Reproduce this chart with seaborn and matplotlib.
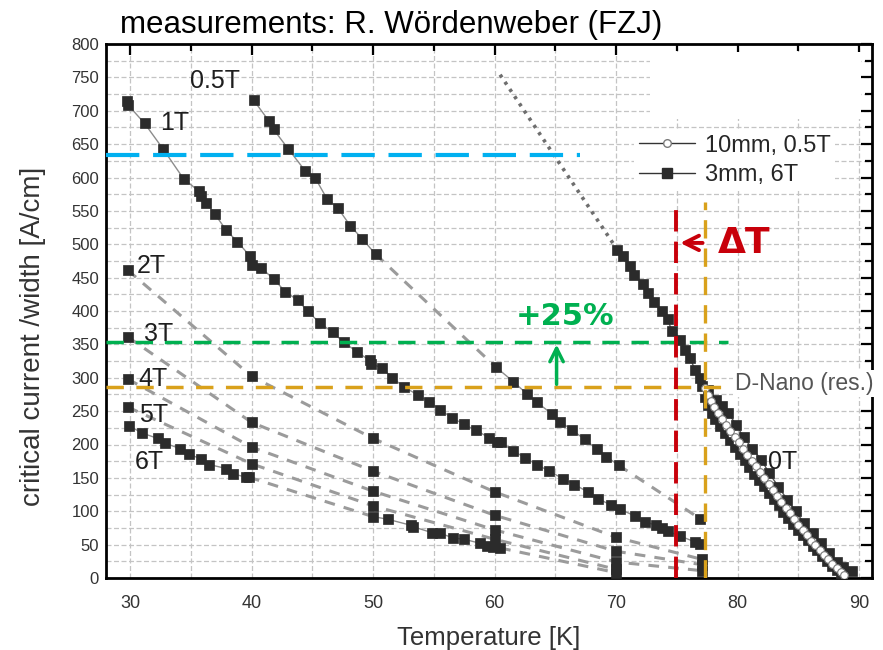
import matplotlib
matplotlib.use("Agg")
import matplotlib.pyplot as plt
import seaborn as sns
from matplotlib.patches import Rectangle
from matplotlib.lines import Line2D
from matplotlib.ticker import MultipleLocator

# ---------------- data ----------------
# 0.5 T measured segments
T_05a = [40.15, 41.4, 41.8, 43.0, 44.4, 45.2, 46.2, 47.1, 48.1, 49.1, 50.2]
J_05a = [716, 685, 672, 643, 610, 600, 568, 554, 528, 508, 485]
T_05b = [60.1, 61.55, 62.7, 63.5, 64.7, 65.4, 66.35, 67.4, 68.4, 69.2, 70.2]
J_05b = [316, 294, 275, 263, 246, 234, 222, 208, 193, 182, 169]
T_05c = [76.9]
J_05c = [89]

# 1 T measured chain
T_1 = [29.73, 29.8, 31.18, 32.69, 34.39, 35.62, 35.82, 36.26, 36.97, 37.9, 38.81,
       39.82, 40.0, 40.75, 41.8, 42.76, 43.8, 44.6, 45.6, 46.68, 47.58, 48.66, 49.7,
       49.78, 50.7, 51.56, 52.55, 53.7, 54.6, 55.5, 56.5, 57.5, 58.48, 59.57, 60.17,
       60.5, 61.5, 62.5, 63.47, 64.5, 65.6, 66.57, 67.67, 68.5, 69.6, 70.3, 71.56,
       72.4, 73.3, 73.8, 74.25, 75.25, 76.5, 76.9]
J_1 = [714, 709, 681, 643, 598, 580, 572, 562, 545, 521, 504, 483, 469, 465, 448,
       429, 416, 400, 382, 368, 353, 339, 326, 321, 315, 300, 286, 274, 264, 252, 240,
       230, 221, 210, 203, 203, 191, 180, 170, 160, 149, 140, 129, 119, 109, 103, 93,
       84, 79, 75, 70, 63, 54, 51]

# 6 T measured segments
T_6a = [29.9, 30.99, 32.28, 32.83, 34.1, 34.8, 35.84, 36.5, 37.9, 38.45, 39.55, 39.77]
J_6a = [228, 217, 209, 202, 194, 186, 178, 170, 164, 156, 151, 151]
T_6b = [49.98, 51.2, 53.1, 53.25, 54.83, 55.5, 56.6, 57.5, 58.8, 59.36, 59.9, 60.45]
J_6b = [92, 88, 79, 77, 68, 67, 60, 58, 52, 48, 47, 45]
T_6c = [70.0]
J_6c = [8]

# isolated measurements 2T..5T
T_pts = [29.8, 40.0, 50.0, 60.0, 70.0, 77.05]
J_2T = [461, 302, 209, 129, 61, 28]
J_3T = [361, 233, 160, 94, 40, 20]
J_4T = [298, 196, 130, 72, 24, 11]
J_5T = [256, 171, 108, 58, 13]

# dotted extrapolation of 0T
T_dot = [60.45, 69.8]
J_dot = [754, 500]

# 0T chain (3mm)
T_0T = [70.06, 70.55, 71.15, 71.48, 72.24, 72.66, 73.13, 73.76, 74.25, 74.58, 75.27,
        75.68, 76.09, 76.5, 76.9, 77.05, 77.6, 78.2, 78.7, 79.25, 79.9, 80.5, 81.2,
        81.97, 82.6, 83.36, 84.1, 84.8, 85.47, 86.2, 86.9, 87.5, 88.17, 88.7, 89.4]
J_0T = [491, 482, 467, 454, 440, 427, 413, 400, 388, 370, 356, 342, 329, 312, 299,
        287, 282, 266, 258, 247, 229, 211, 194, 177, 157, 137, 117, 100, 82, 67, 52,
        38, 24, 17, 10]

# inner dense chain (3mm)
T_in = [77.2, 77.5, 77.8, 78.1, 78.5, 78.9, 79.3, 79.7, 80.1, 80.5, 80.9, 81.3, 81.7,
        82.1, 82.5, 82.9, 83.3, 83.7, 84.1, 84.5, 84.9, 85.3, 85.7, 86.1, 86.5, 86.9,
        87.3, 87.7, 88.1, 88.45]
J_in = [270, 258, 246, 236, 226, 216, 205, 195, 185, 175, 165, 155, 146, 136, 126,
        117, 108, 98, 89, 80, 71, 63, 55, 47, 40, 32, 24, 17, 11, 6]

# 10mm, 0.5T (open circles)
T_10 = [77.3, 77.55, 77.8, 78.1, 78.4, 78.7, 79.05, 79.4, 79.75, 80.1, 80.45, 80.8,
        81.15, 81.5, 81.85, 82.2, 82.55, 82.9, 83.25, 83.6, 83.95, 84.3, 84.65, 85.0,
        85.35, 85.7, 86.05, 86.4, 86.75, 87.1, 87.45, 87.8, 88.15, 88.5, 88.8]
J_10 = [284, 274, 265, 256, 247, 238, 229, 220, 211, 203, 194, 185, 176, 168, 159,
        150, 141, 132, 123, 114, 105, 97, 88, 80, 72, 64, 56, 49, 42, 35, 28, 21, 15,
        9, 4]

# reference levels
J_ref_blue = 634
J_ref_green = 354
J_ref_gold = 286
T_red = 74.95
T_gold = 77.35

field_labels = ["0.5T", "1T", "2T", "3T", "4T", "5T", "6T", "0T"]
label_T = [34.95, 32.45, 30.55, 31.1, 30.65, 30.7, 30.4, 82.5]
label_J = [744, 682, 467, 366, 298, 244, 174, 174]

# ---------------- styling ----------------
sns.set_theme(style="white")
plt.rcParams['font.family'] = ['Liberation Sans', 'DejaVu Sans']

fig = plt.figure(figsize=(8.83, 6.5), dpi=100)
ax = fig.add_axes([106 / 883, 1 - 578 / 650, (872 - 106) / 883, (578 - 44) / 650])
ax.set_xlim(28.0, 91.07)
ax.set_ylim(0, 800)

ax.xaxis.set_major_locator(MultipleLocator(10))
ax.xaxis.set_minor_locator(MultipleLocator(5))
ax.yaxis.set_major_locator(MultipleLocator(50))
ax.yaxis.set_minor_locator(MultipleLocator(25))
ax.set_axisbelow(True)
ax.grid(which='both', color='#c4c4c4', linestyle=(0, (4, 2)), linewidth=0.9)
for s in ax.spines.values():
    s.set_color('black')
    s.set_linewidth(2)
ax.tick_params(which='both', direction='in', top=True, right=True, color='black',
               width=1.6, labelcolor='#333333')
ax.tick_params(which='major', length=8)
ax.tick_params(which='minor', length=5)
ax.tick_params(axis='x', labelsize=13, pad=12)
ax.tick_params(axis='y', labelsize=12, pad=5)

# white patch in top-right (pasted area in the original)
ax.add_patch(Rectangle((72.8, 688), 17.4, 100, facecolor='white', edgecolor='none', zorder=1))

SQC = '#2b2b2b'
GREY_LINE = '#8c8c8c'
DASH_GREY = '#9b9b9b'


def chain(T, J, ms=6.5, lc=GREY_LINE, lw=1.0, z=5):
    sns.lineplot(x=T, y=J, ax=ax, estimator=None, sort=False, color=lc, linewidth=lw,
                 marker='s', markersize=ms, markerfacecolor=SQC, markeredgecolor=SQC,
                 markeredgewidth=0.5, legend=False, zorder=z)


def dashed(T, J):
    sns.lineplot(x=T, y=J, ax=ax, estimator=None, sort=False, color=DASH_GREY,
                 linewidth=2.2, linestyle=(0, (3.5, 3)), legend=False, zorder=3)


def points(T, J):
    sns.scatterplot(x=T, y=J, ax=ax, marker='s', s=50, color=SQC, edgecolor=SQC,
                    linewidth=0.5, legend=False, zorder=6)


# dashed extrapolations
dashed([T_05a[-1], T_05b[0]], [J_05a[-1], J_05b[0]])
dashed([T_05b[-1], T_05c[0]], [J_05b[-1], J_05c[0]])
dashed([T_6a[-1], T_6b[0]], [J_6a[-1], J_6b[0]])
dashed([T_6b[-1], T_6c[0]], [J_6b[-1], J_6c[0]])
for Jf in (J_2T, J_3T, J_4T, J_5T):
    dashed(T_pts[:len(Jf)], Jf)
    points(T_pts[:len(Jf)], Jf)
points(T_05c, J_05c)
points(T_6c, J_6c)

# measured chains
chain(T_05a, J_05a)
chain(T_05b, J_05b)
chain(T_1, J_1)
chain(T_6a, J_6a)
chain(T_6b, J_6b)

# dotted extrapolation
sns.lineplot(x=T_dot, y=J_dot, ax=ax, estimator=None, sort=False, color='#6e6e6e',
             linewidth=2.6, linestyle=(0, (0.9, 1.5)), legend=False, zorder=4)

# 0T curves
chain(T_0T, J_0T, lc='#555555')
chain(T_in, J_in, ms=6, lc='#222222', lw=1.5)
sns.lineplot(x=T_10, y=J_10, ax=ax, estimator=None, sort=False, color='#333333',
             linewidth=1.0, marker='o', markersize=5.5, markerfacecolor='white',
             markeredgecolor='#7a7a7a', markeredgewidth=0.8, legend=False, zorder=7)

# reference lines
ax.plot([28.0, 67.0], [J_ref_blue] * 2, color='#00b0f0', linewidth=3.0,
        linestyle=(0, (8, 3.3)), zorder=8)
ax.plot([28.0, 79.2], [J_ref_green] * 2, color='#00b050', linewidth=2.5,
        linestyle=(0, (5, 3.4)), zorder=8)
ax.plot([28.0, 79.1], [J_ref_gold] * 2, color='#d9a11b', linewidth=2.5,
        linestyle=(0, (5, 3.6)), zorder=8)
ax.plot([T_red] * 2, [0, 564], color='#c8000a', linewidth=2.8,
        linestyle=(0, (5.5, 2.6)), zorder=8)
ax.plot([T_gold] * 2, [0, 564], color='#d9a11b', linewidth=2.4,
        linestyle=(0, (5.5, 3.0)), zorder=8)

# arrows and annotations
ax.annotate('', xy=(T_red + 0.1, 502), xytext=(T_gold, 502),
            arrowprops=dict(arrowstyle='->', color='#c8000a', lw=2.8, mutation_scale=26),
            zorder=9)
ax.text(78.4, 502, 'ΔT', color='#c8000a', fontsize=26, fontweight='bold',
        ha='left', va='center', family=['DejaVu Sans'], zorder=9)
ax.annotate('', xy=(65.1, J_ref_green), xytext=(65.1, J_ref_gold),
            arrowprops=dict(arrowstyle='->', color='#00b050', lw=2.5, mutation_scale=24),
            zorder=9)
ax.text(65.8, 392, '+25%', color='#00b050', fontsize=22, fontweight='bold',
        ha='center', va='center', family=['DejaVu Sans'], zorder=9)
ax.text(79.8, 291, 'D-Nano (res.)', color='#555555', fontsize=16.5, ha='left', va='center',
        clip_on=False, zorder=12,
        bbox=dict(facecolor='white', edgecolor='none', pad=1.5))

for lab, tx, jy in zip(field_labels, label_T, label_J):
    ax.text(tx, jy, lab, fontsize=18, color='#1e1e1e', ha='left', va='center', zorder=9)

# legend
handles = [
    Line2D([], [], color='#333333', linewidth=1.0, marker='o', markersize=5.5,
           markerfacecolor='white', markeredgecolor='#7a7a7a'),
    Line2D([], [], color='#333333', linewidth=1.0, marker='s', markersize=6.5,
           markerfacecolor=SQC, markeredgecolor=SQC),
]
leg = ax.legend(handles, ['10mm, 0.5T', '3mm, 6T'], loc='upper left',
                bbox_to_anchor=(634 / 883, 1 - 130 / 650), bbox_transform=fig.transFigure,
                fontsize=17, frameon=True, facecolor='white', edgecolor='none',
                framealpha=1, handlelength=2.4, handletextpad=0.4, labelspacing=0.3,
                borderpad=0.2, borderaxespad=0)
leg.set_zorder(10)

ax.set_xlabel('Temperature [K]', fontsize=18.5, color='#333333', labelpad=10)
ax.set_ylabel('critical current /width [A/cm]', fontsize=20, color='#333333')
ax.yaxis.set_label_coords(-0.078, 0.453)

fig.text(120 / 883, 1 - 25 / 650, 'measurements: R. Wördenweber (FZJ)', fontsize=22.5,
         color='black', ha='left', va='center')

fig.savefig('out.png', dpi=100)
